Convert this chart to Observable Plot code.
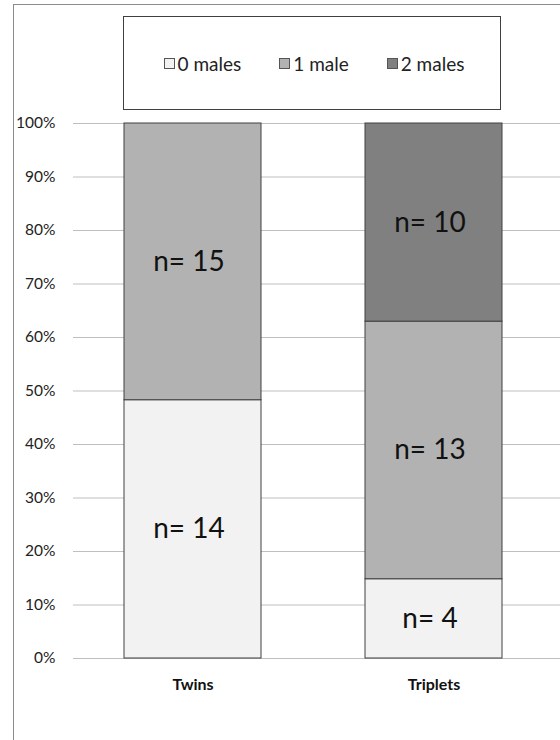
<!DOCTYPE html>
<html>
<head>
<meta charset="utf-8">
<script src="https://cdn.jsdelivr.net/npm/d3@7"></script>
<script src="https://cdn.jsdelivr.net/npm/@observablehq/plot@0.6"></script>
<style>
  html, body { margin: 0; padding: 0; background: #fff; }
  #wrap { position: relative; width: 560px; height: 740px; overflow: hidden; font-family: Lato, "Open Sans", sans-serif; }
  #frame { position: absolute; left: 13px; top: 4px; width: 700px; height: 900px; border: 1px solid #8c8c8c; box-sizing: border-box; }
  #chart { position: absolute; left: 0; top: 0; }
  #legend { position: absolute; left: 123px; top: 16px; width: 378px; height: 94px; border: 1px solid #404040; box-sizing: border-box; background: #fff;
            display: flex; align-items: center; justify-content: center; gap: 38px; font-size: 19px; color: #222; padding-left: 4px; }
  .item { display: flex; align-items: center; }
  .sw { width: 11px; height: 11px; border: 1px solid #555; margin-right: 3px; box-sizing: border-box; }
</style>
</head>
<body>
<div id="wrap">
  <div id="frame"></div>
  <div id="chart"></div>
  <div id="legend"></div>
</div>
<script>
const groups = ["Twins", "Triplets"];
const categories = ["0 males", "1 male", "2 males"];
const twinsCounts = [14, 15, 0];
const tripletsCounts = [4, 13, 10];
const colors = ["#f2f2f2", "#b2b2b2", "#808080"];
const yTicks = [0, 0.1, 0.2, 0.3, 0.4, 0.5, 0.6, 0.7, 0.8, 0.9, 1.0];

const countsByGroup = [twinsCounts, tripletsCounts];
const data = [];
groups.forEach((g, gi) => {
  categories.forEach((c, ci) => {
    const v = countsByGroup[gi][ci];
    if (v > 0) data.push({group: g, cat: c, count: v});
  });
});

const stackOpts = {x: "group", y: "count", z: "cat", offset: "normalize", order: categories};

const chart = Plot.plot({
  width: 560,
  height: 740,
  marginTop: 123,
  marginBottom: 82,
  marginLeft: 73,
  marginRight: 0,
  style: {fontFamily: "Lato, 'Open Sans', sans-serif", background: "transparent"},
  x: {domain: groups, range: [73, 553], paddingInner: 0.43, paddingOuter: 0.21, label: null},
  y: {domain: [0, 1], label: null},
  color: {domain: categories, range: colors},
  marks: [
    Plot.ruleY(yTicks, {stroke: "#bfbfbf", strokeWidth: 1.2}),
    Plot.barY(data, Plot.stackY({...stackOpts, fill: "cat", stroke: "#404040", strokeWidth: 1})),
    Plot.text(data, Plot.stackY({...stackOpts, text: d => "n= " + d.count, fontSize: 28, fill: "#111", dx: -4})),
    Plot.axisY({ticks: yTicks, tickFormat: d3.format(".0%"), tickSize: 0, tickPadding: 18, fontSize: 15.5, fill: "#222", label: null}),
    Plot.axisX({tickSize: 0, tickPadding: 20, fontSize: 16, fontWeight: "bold", fill: "#111", label: null})
  ]
});
document.getElementById("chart").appendChild(chart);

const legend = document.getElementById("legend");
categories.forEach((c, i) => {
  const item = document.createElement("div");
  item.className = "item";
  const sw = document.createElement("span");
  sw.className = "sw";
  sw.style.background = colors[i];
  const t = document.createElement("span");
  t.textContent = c;
  item.appendChild(sw);
  item.appendChild(t);
  legend.appendChild(item);
});
</script>
</body>
</html>
